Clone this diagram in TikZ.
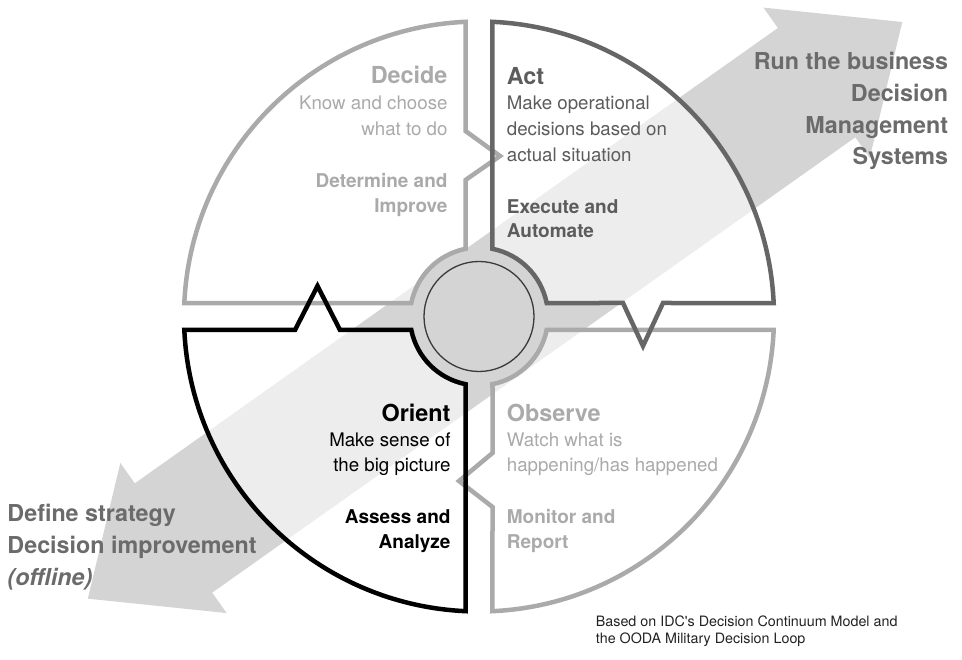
\documentclass[tikz,border=0pt]{standalone}
\usepackage{fontspec}
\setmainfont{TeX Gyre Heros}[Ligatures=TeXOff]
\usetikzlibrary{calc}
\definecolor{arrowgray}{HTML}{D4D4D4}
\definecolor{lightq}{HTML}{AAAAAA}
\definecolor{darkq}{HTML}{666666}
\definecolor{acttext}{HTML}{5C5C5C}
\definecolor{biglabel}{HTML}{6B6B6B}
\definecolor{foot}{HTML}{222222}
\definecolor{hubline}{HTML}{3A3A3A}
\begin{document}
\begin{tikzpicture}[x=1pt,y=1pt,
  qfill/.style={fill=white, fill opacity=0.6},
  qline/.style={line width=4.5pt, line join=miter, miter limit=10},
  ttl/.style={font=\fontsize{23.4}{28}\selectfont\bfseries, inner sep=0},
  body/.style={font=\fontsize{18.7}{22}\selectfont, inner sep=0},
  sub/.style={font=\fontsize{19}{22}\selectfont\bfseries, inner sep=0},
  big/.style={font=\fontsize{23.3}{28}\selectfont\bfseries, inner sep=0, text=biglabel},
  foottext/.style={font=\fontsize{14.3}{17}\selectfont, inner sep=0, text=foot, anchor=base west},
  decidepath/.style={insert path={($(C)+(101.28:69)$) -- (465.5,-180) -- (500,-156) -- (465.5,-131) -- ($(C)+(92.62:295)$) arc[start angle=92.62, end angle=177.38, radius=295] -- ($(C)+(168.72:69)$) arc[start angle=168.72, end angle=101.28, radius=69] -- cycle}},
  actpath/.style={insert path={($(C)+(78.72:69)$) -- ($(C)+(87.38:295)$) arc[start angle=87.38, end angle=2.62, radius=295] -- (663,-303) -- (643,-346) -- (623,-303) -- ($(C)+(11.28:69)$) arc[start angle=11.28, end angle=78.72, radius=69] -- cycle}},
  observepath/.style={insert path={($(C)+(-11.28:69)$) -- ($(C)+(-2.62:295)$) arc[start angle=-2.62, end angle=-87.38, radius=295] -- (492.5,-507) -- (459,-481) -- (492.5,-453) -- ($(C)+(-78.72:69)$) arc[start angle=-78.72, end angle=-11.28, radius=69] -- cycle}},
  orientpath/.style={insert path={($(C)+(191.28:69)$) -- (340,-330) -- (317.5,-286) -- (295,-330) -- ($(C)+(182.62:295)$) arc[start angle=182.62, end angle=267.38, radius=295] -- ($(C)+(258.72:69)$) arc[start angle=258.72, end angle=191.28, radius=69] -- cycle}}
]
\useasboundingbox (0,0) rectangle (962,-660);
\coordinate (C) at (479,-316.5);

% big double-headed arrow
\begin{scope}[shift={(173.5,-538)}, rotate=35.3]
\fill[arrowgray] (-105,0) -- (0,92) -- (0,67) -- (788,67) -- (788,92) -- (893,0)
  -- (788,-92) -- (788,-67) -- (0,-67) -- (0,-92) -- cycle;
\end{scope}

% quadrant fills
\path[qfill, decidepath];
\path[qfill, actpath];
\path[qfill, observepath];
\path[qfill, orientpath];

% hub ring
\fill[arrowgray] (C) circle[radius=69];

% quadrant outlines
\draw[qline, draw=lightq, decidepath];
\draw[qline, draw=lightq, observepath];
\draw[qline, draw=darkq, actpath];
\draw[qline, draw=black, orientpath];

% hub
\node[circle, draw=hubline, fill=arrowgray, line width=1.3pt, minimum size=110pt, inner sep=0] (hub) at (C) {};

% Decide
\node[ttl, text=lightq, anchor=base east] (decT) at (447.7,-83.3) {Decide};
\node[body, text=lightq, anchor=base east] (decA) at (447.7,-110) {Know and choose};
\node[body, text=lightq, anchor=base east] (decB) at (447.7,-135.5) {what to do};
\node[sub, text=lightq, anchor=base east] (decC) at (447.7,-187.7) {Determine and};
\node[sub, text=lightq, anchor=base east] (decD) at (447.7,-212.7) {Improve};

% Act
\node[ttl, text=acttext, anchor=base west] (actT) at (506.7,-84.3) {Act};
\node[body, text=acttext, anchor=base west] (actA) at (506.7,-110) {Make operational};
\node[body, text=acttext, anchor=base west] (actB) at (506.7,-135.7) {decisions based on};
\node[body, text=acttext, anchor=base west] (actC) at (506.7,-161.2) {actual situation};
\node[sub, text=acttext, anchor=base west] (actD) at (506.7,-213.3) {Execute and};
\node[sub, text=acttext, anchor=base west] (actE) at (506.7,-237.9) {Automate};

% Orient
\node[ttl, text=black, anchor=base east] (oriT) at (450.7,-421.7) {Orient};
\node[body, text=black, anchor=base east] (oriA) at (450.7,-446.7) {Make sense of};
\node[body, text=black, anchor=base east] (oriB) at (450.7,-471.7) {the big picture};
\node[sub, text=black, anchor=base east] (oriC) at (450.7,-523.3) {Assess and};
\node[sub, text=black, anchor=base east] (oriD) at (450.7,-548.3) {Analyze};

% Observe
\node[ttl, text=lightq, anchor=base west] (obsT) at (506.7,-421.7) {Observe};
\node[body, text=lightq, anchor=base west] (obsA) at (506.7,-446.7) {Watch what is};
\node[body, text=lightq, anchor=base west] (obsB) at (506.7,-471.7) {happening/has happened};
\node[sub, text=lightq, anchor=base west] (obsC) at (506.7,-523.3) {Monitor and};
\node[sub, text=lightq, anchor=base west] (obsD) at (506.7,-548.3) {Report};

% Arrow end labels
\node[big, anchor=base east] (runA) at (948.3,-69.3) {Run the business};
\node[big, anchor=base east] (runB) at (948.3,-101.5) {Decision};
\node[big, anchor=base east] (runC) at (948.3,-133.3) {Management};
\node[big, anchor=base east] (runD) at (948.3,-165) {Systems};

\node[big, anchor=base west] (defA) at (7.3,-521.7) {Define strategy};
\node[big, anchor=base west] (defB) at (7.3,-553.3) {Decision improvement};
\node[big, anchor=base west, font=\fontsize{23.3}{28}\selectfont\bfseries\itshape] (defC) at (7.3,-585) {(offline)};

% footnote
\node[foottext] (footA) at (595.7,-626.7) {Based on IDC's Decision Continuum Model and};
\node[foottext] (footB) at (595.7,-643.3) {the OODA Military Decision Loop};
\end{tikzpicture}
\end{document}
